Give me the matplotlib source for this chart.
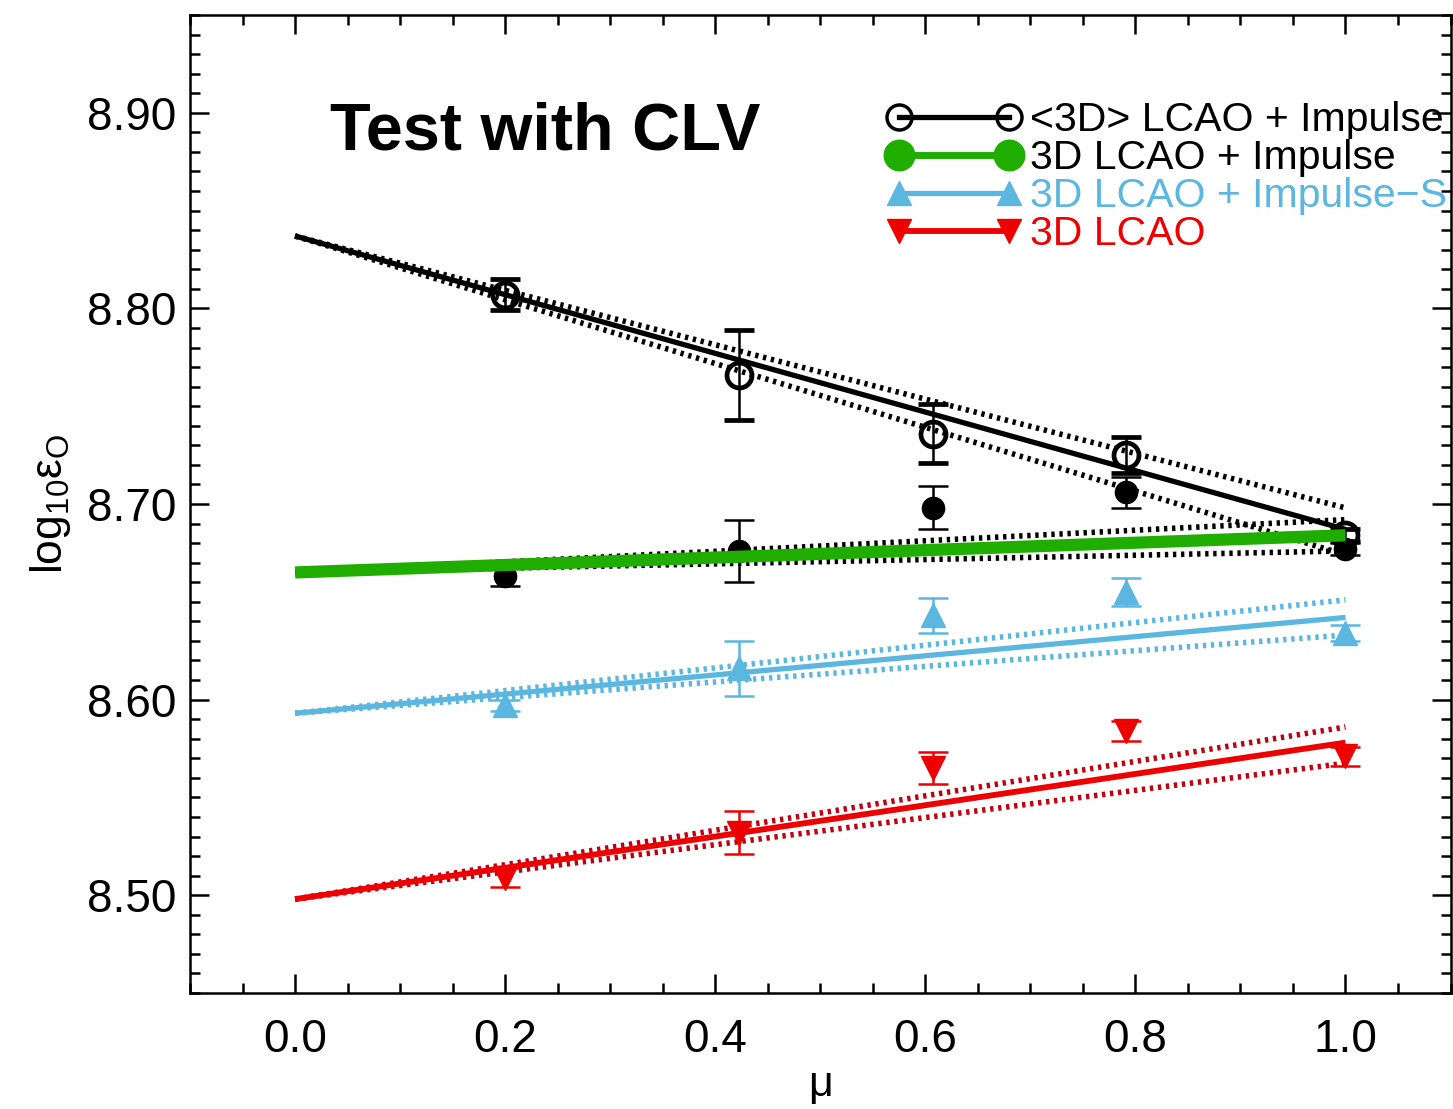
import matplotlib
matplotlib.use("Agg")
import matplotlib.pyplot as plt
from matplotlib.lines import Line2D
from matplotlib.ticker import MultipleLocator, FormatStrFormatter

plt.rcParams['font.family'] = ['Liberation Sans', 'DejaVu Sans']
plt.rcParams['mathtext.default'] = 'regular'

# ---- data ----
mu = [0.200, 0.423, 0.607, 0.791, 1.000]

avg3d_imp = [8.807, 8.766, 8.736, 8.725, 8.684]
avg3d_imp_err = [0.008, 0.023, 0.015, 0.009, 0.003]

lcao_imp = [8.663, 8.676, 8.698, 8.706, 8.677]
lcao_imp_err = [0.005, 0.016, 0.011, 0.008, 0.003]

lcao_imps = [8.597, 8.616, 8.643, 8.655, 8.634]
lcao_imps_err = [0.003, 0.014, 0.009, 0.007, 0.004]

lcao = [8.509, 8.532, 8.565, 8.584, 8.571]
lcao_err = [0.005, 0.011, 0.008, 0.005, 0.005]

fit_x = [0.0, 1.0]
fit_avg3d = [8.837, 8.687]
fit_avg3d_hi = [8.837, 8.698]
fit_avg3d_lo = [8.837, 8.674]
fit_imp = [8.665, 8.684]
fit_imp_hi = [8.665, 8.692]
fit_imp_lo = [8.665, 8.676]
fit_imps = [8.593, 8.642]
fit_imps_hi = [8.593, 8.651]
fit_imps_lo = [8.593, 8.633]
fit_lcao = [8.498, 8.578]
fit_lcao_hi = [8.498, 8.586]
fit_lcao_lo = [8.498, 8.5675]

labels = ['<3D> LCAO + Impulse', '3D LCAO + Impulse', '3D LCAO + Impulse\u2212S', '3D LCAO']

BLACK = '#000000'
GREEN = '#1fae00'
BLUE = '#5bb7e0'
RED = '#ee0000'

fig = plt.figure(figsize=(14.53, 11.09), dpi=100)
ax = fig.add_axes([0.1308, 0.1046, 0.8675, 0.8819])

dot = (0, (0.6, 0.85))
# envelopes
for hi, lo, c in [(fit_avg3d_hi, fit_avg3d_lo, BLACK), (fit_imp_hi, fit_imp_lo, BLACK),
                  (fit_imps_hi, fit_imps_lo, BLUE), (fit_lcao_hi, fit_lcao_lo, '#c00010')]:
    ax.plot(fit_x, hi, color=c, lw=4.0, ls=dot, zorder=2)
    ax.plot(fit_x, lo, color=c, lw=4.0, ls=dot, zorder=2)

ekw = dict(capsize=11, elinewidth=1.8, capthick=1.8, ls='none', zorder=3)
ax.errorbar(mu, avg3d_imp, yerr=avg3d_imp_err, fmt='o', ms=18, mfc='none', mec=BLACK,
            mew=3.4, color=BLACK, **ekw)
ax.errorbar(mu, lcao_imp, yerr=lcao_imp_err, fmt='o', ms=16, mfc=BLACK, mec=BLACK,
            color=BLACK, **ekw)
ax.errorbar(mu, lcao_imps, yerr=lcao_imps_err, fmt='^', ms=17, mfc=BLUE, mec=BLUE,
            color=BLUE, **ekw)
ax.errorbar(mu, lcao, yerr=lcao_err, fmt='v', ms=17, mfc=RED, mec=RED,
            color=RED, **ekw)

ax.plot(fit_x, fit_avg3d, color=BLACK, lw=3.8, zorder=4, solid_capstyle='butt')
ax.plot(fit_x, fit_imps, color=BLUE, lw=3.8, zorder=4, solid_capstyle='butt')
ax.plot(fit_x, fit_lcao, color=RED, lw=4.2, zorder=4, solid_capstyle='butt')
ax.plot(fit_x, fit_imp, color=GREEN, lw=8.8, zorder=5, solid_capstyle='butt')

ax.set_xlim(-0.1, 1.1)
ax.set_ylim(8.45, 8.95)
ax.xaxis.set_major_locator(MultipleLocator(0.2))
ax.xaxis.set_minor_locator(MultipleLocator(0.05))
ax.yaxis.set_major_locator(MultipleLocator(0.1))
ax.yaxis.set_minor_locator(MultipleLocator(0.01))
ax.xaxis.set_major_formatter(FormatStrFormatter('%.1f'))
ax.yaxis.set_major_formatter(FormatStrFormatter('%.2f'))
ax.tick_params(which='both', direction='in', top=True, right=True, width=1.8,
               labelsize=33)
ax.tick_params(which='major', length=14)
ax.tick_params(which='minor', length=7)
ax.tick_params(axis='x', which='major', pad=18)
ax.tick_params(axis='y', which='major', pad=10)
for s in ax.spines.values():
    s.set_linewidth(1.8)

ax.set_xlabel('\u03bc', fontsize=31, labelpad=2)
ax.set_ylabel('log$_{10}$\u03b5$_{O}$', fontsize=32, labelpad=10)

ax.text(0.1108, 0.880, 'Test with CLV', transform=ax.transAxes, fontsize=48,
        fontweight='bold', va='center', ha='left')

handles = [
    Line2D([], [], color=BLACK, lw=3.8, marker='o', ms=18, mfc='none', mec=BLACK, mew=2.5),
    Line2D([], [], color=GREEN, lw=5, marker='o', ms=22, mfc=GREEN, mec=GREEN),
    Line2D([], [], color=BLUE, lw=3.8, marker='^', ms=17, mfc=BLUE, mec=BLUE),
    Line2D([], [], color=RED, lw=4.2, marker='v', ms=17, mfc=RED, mec=RED),
]
leg = ax.legend(handles, labels, loc='upper left', bbox_to_anchor=(0.553, 0.912),
                frameon=False, fontsize=29.5, numpoints=2, handlelength=3.28,
                handletextpad=0.2, labelspacing=0.0, borderpad=0, borderaxespad=0,
                labelcolor=[BLACK, BLACK, BLUE, RED])

fig.savefig('out.png', dpi=100)
